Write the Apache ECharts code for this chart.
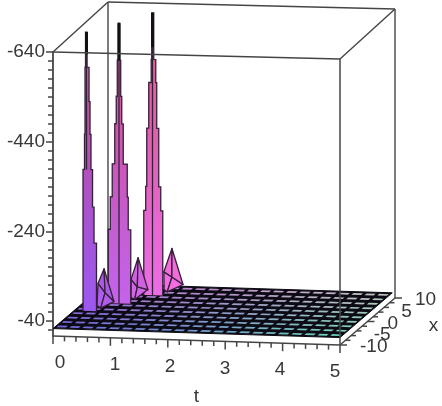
<!DOCTYPE html>
<html>
<head>
<meta charset="utf-8">
<style>html,body{margin:0;padding:0;background:#fff}#main{width:442px;height:406px}</style>
<script src="https://cdn.jsdelivr.net/npm/echarts@6/dist/echarts.min.js"></script>
</head>
<body>
<div id="main"></div>
<script>
// Axis ticks and labels
const tLabels = [0, 1, 2, 3, 4, 5];
const tTicks = [0,0.2,0.4,0.6,0.8,1,1.2,1.4,1.6,1.8,2,2.2,2.4,2.6,2.8,3,3.2,3.4,3.6,3.8,4,4.2,4.4,4.6,4.8,5];
const xLabels = [-10, -5, 0, 5, 10];
const xTicks = [-10,-8,-6,-4,-2,0,2,4,6,8,10];
const zLabels = [-640, -440, -240, -40];
const zTicks = [-640,-620,-600,-580,-560,-540,-520,-500,-480,-460,-440,-420,-400,-380,-360,-340,-320,-300,-280,-260,-240,-220,-200,-180,-160,-140,-120,-100,-80,-60,-40,-20];
const zTop = -640;
const zBottom = -6.5;

// Flat part of the surface
const floorT = [0,0.23,0.45,0.68,0.91,1.14,1.36,1.59,1.82,2.05,2.27,2.5,2.73,2.95,3.18,3.41,3.64,3.86,4.09,4.32,4.55,4.77,5];
const floorX = [-10,-8.1,-6.2,-4.3,-2.4,-0.5,1.4,3.3,5.2,7.1,9];
const floorZ = -23;

// Tall soliton peaks: apex position, level of each step, half widths in t of each band
const peakA = { t: 0.214, x: -2.28, levels: [-642,-564,-488,-415,-337,-254,-174],
  left: [0.017,0.026,0.026,0.035,0.061,0.061,0.061], right: [0.009,0.044,0.061,0.078,0.105,0.131,0.174], blackTo: -593, lineTo: -337 };
const peakB = { t: 0.616, x: 1.14, levels: [-644,-562,-482,-421,-332,-259,-187],
  left: [0.013,0.030,0.048,0.074,0.118,0.152,0.187], right: [0.013,0.030,0.048,0.074,0.144,0.161,0.205], blackTo: -562, lineTo: floorZ };
const peakC = { t: 1.016, x: 4.97, levels: [-647,-544,-493,-392,-263,-210],
  left: [0.013,0.022,0.065,0.100,0.118,0.152], right: [0.022,0.057,0.074,0.109,0.144,0.179], blackTo: -571, lineTo: floorZ };

// Small side peaks as [t, x, z]: apex, left shoulder, left foot, saddle, front foot, right foot
const bumpA = [[0.348,1.3,-98],[0.276,0.6,-69],[0.287,0,floorZ],[0.38,1.0,-47],[0.40,-1,floorZ],[0.494,1.87,floorZ]];
const bumpB = [[0.74,5.5,-102],[0.675,4.3,-60],[0.70,3.73,floorZ],[0.76,4.8,-41],[0.80,3,floorZ],[0.83,7.2,floorZ]];
const bumpC = [[1.183,8.56,-108],[1.07,8,-59],[1.10,7.44,floorZ],[1.20,8.2,-47],[1.20,6.5,floorZ],[1.32,9.73,floorZ]];

// Share of each floor cell taken by the dark mesh, per side
const meshInsetT = 0.14, meshInsetX = 0.31;

// Screen shift of the depth and t directions, in pixels
const depthDX = 55, depthDYBottom = -47, depthDYTop = -50, tDYBottom = 9, tDYTop = 7;

function project(api, t, x, z) {
  const base = api.coord([t, z]);
  const f = (zBottom - z) / (zBottom - zTop);
  const u = (x + 10) / 20;
  return [
    base[0] + u * depthDX,
    base[1] + (t / 5) * (tDYBottom + (tDYTop - tDYBottom) * f) + u * (depthDYBottom + (depthDYTop - depthDYBottom) * f)
  ];
}

function mix(a, b, k) { return a.map((v, i) => v + (b[i] - v) * k); }
function css(c) { return 'rgb(' + c.map(Math.round).join(',') + ')'; }

// Colour of the flat part: position-shaded across t and x
function floorColor(t, x) {
  const u = (x + 10) / 20, v = t / 5;
  return css(mix(mix([112,98,222],[104,214,184],v), mix([186,108,204],[206,196,190],v), u));
}
// Colour of raised parts: follows t and the height
function raisedColor(t, z) {
  const v = Math.min(1, t / 1.1), f = (zBottom - z) / (zBottom - zTop);
  const stops = [
    [0.0, mix([134,84,246],[244,112,230],v)],
    [0.3, mix([146,80,216],[236,104,204],v)],
    [0.55, mix([168,76,186],[232,96,176],v)],
    [0.8, mix([186,86,156],[232,96,154],v)],
    [1.0, mix([232,140,150],[242,112,116],v)]
  ];
  for (let i = 1; i < stops.length; i++) {
    if (f <= stops[i][0]) {
      return css(mix(stops[i-1][1], stops[i][1], (f - stops[i-1][0]) / (stops[i][0] - stops[i-1][0])));
    }
  }
  return css(stops[stops.length-1][1]);
}

const axisInk = '#454545', textInk = '#383838', meshInk = '#0c0a14', peakInk = '#35203c';
const font = '19px "Liberation Sans", Arial, sans-serif';

function edge(api, a, b, width) {
  const p = project(api, a[0], a[1], a[2]), q = project(api, b[0], b[1], b[2]);
  return { type: 'line', shape: { x1: p[0], y1: p[1], x2: q[0], y2: q[1] }, style: { stroke: axisInk, lineWidth: width || 1.4 } };
}

// Box edges that lie behind the surface
const backEdges = [
  [[0,-10,zTop],[0,10,zTop]], [[0,10,zTop],[5,10,zTop]], [[5,-10,zTop],[5,10,zTop]],
  [[0,10,zTop],[0,10,zBottom]], [[5,10,zTop],[5,10,zBottom]]
];
// Box edges and axes in front of it
const frontEdges = [
  [[0,-10,zTop],[5,-10,zTop]], [[5,-10,zTop],[5,-10,zBottom]],
  [[0,-10,zBottom],[5,-10,zBottom]], [[5,-10,zBottom],[5,10,zBottom]]
];

function renderBack(params, api) {
  const e = backEdges[api.value(0)];
  return edge(api, e[0], e[1]);
}

function renderFloorBase(params, api) {
  const tEnd = floorT[floorT.length-1], xEnd = floorX[floorX.length-1];
  return {
    type: 'polygon',
    shape: { points: [
      project(api, floorT[0], floorX[0], floorZ), project(api, tEnd, floorX[0], floorZ),
      project(api, tEnd, xEnd, floorZ), project(api, floorT[0], xEnd, floorZ)
    ] },
    style: { fill: meshInk, stroke: meshInk, lineWidth: 1 }
  };
}

function renderFloorCell(params, api) {
  const i = api.value(0), j = api.value(1);
  const dt = (floorT[i+1] - floorT[i]) * meshInsetT, dx = (floorX[j+1] - floorX[j]) * meshInsetX;
  const t0 = floorT[i] + dt, t1 = floorT[i+1] - dt, x0 = floorX[j] + dx, x1 = floorX[j+1] - dx;
  return {
    type: 'polygon',
    shape: { points: [
      project(api, t0, x0, floorZ), project(api, t1, x0, floorZ),
      project(api, t1, x1, floorZ), project(api, t0, x1, floorZ)
    ] },
    style: { fill: floorColor((t0 + t1) / 2, (x0 + x1) / 2) }
  };
}

function peakShape(api, pk) {
  const n = pk.levels.length, children = [];
  const zAt = k => (k < n ? pk.levels[k] : floorZ);
  // one face per stepped band, shaded by its height; each band runs slightly under the next
  for (let k = n - 1; k >= 0; k--) {
    const a = project(api, pk.t - pk.left[k], pk.x, zAt(k)), b = project(api, pk.t + pk.right[k], pk.x, zAt(k));
    const c = project(api, pk.t + pk.right[k], pk.x, zAt(k+1)), d = project(api, pk.t - pk.left[k], pk.x, zAt(k+1));
    if (k < n - 1) { a[1] -= 0; c[1] += 1; d[1] += 1; }
    children.push({
      type: 'polygon', shape: { points: [a, b, c, d] },
      style: {
        fill: { type: 'linear', x: 0, y: 0, x2: 0, y2: 1, colorStops: [
          { offset: 0, color: raisedColor(pk.t, zAt(k)) }, { offset: 1, color: raisedColor(pk.t, zAt(k+1)) } ] }
      }
    });
  }
  // stepped outline
  const lhs = [], rhs = [];
  for (let k = 0; k < n; k++) {
    rhs.push(project(api, pk.t + pk.right[k], pk.x, zAt(k)), project(api, pk.t + pk.right[k], pk.x, zAt(k+1)));
    lhs.push(project(api, pk.t - pk.left[k], pk.x, zAt(k)), project(api, pk.t - pk.left[k], pk.x, zAt(k+1)));
  }
  children.push({ type: 'polyline', shape: { points: lhs.reverse().concat(rhs) }, style: { fill: 'none', stroke: peakInk, lineWidth: 1.3 } });
  const top = project(api, pk.t, pk.x, pk.levels[0]);
  const mid = project(api, pk.t, pk.x, pk.lineTo), blk = project(api, pk.t, pk.x, pk.blackTo);
  children.push({ type: 'line', shape: { x1: top[0], y1: top[1], x2: mid[0], y2: mid[1] }, style: { stroke: peakInk, lineWidth: 1.3 } });
  children.push({ type: 'line', shape: { x1: top[0], y1: top[1], x2: blk[0], y2: blk[1] }, style: { stroke: '#111', lineWidth: 3 } });
  return { type: 'group', children };
}

function bumpShape(api, b) {
  const P = b.map(q => project(api, q[0], q[1], q[2]));
  const [apex, shoulder, foot, saddle, front, rightFoot] = P;
  const face = (pts, q) => ({
    type: 'polygon', shape: { points: pts },
    style: { fill: raisedColor(q[0], q[2]), stroke: peakInk, lineWidth: 1.3, lineJoin: 'round' }
  });
  return { type: 'group', children: [
    face([saddle, shoulder, foot, front], b[3]),
    face([saddle, front, rightFoot], b[3]),
    face([apex, shoulder, saddle], b[0]),
    face([apex, saddle, rightFoot], b[0])
  ] };
}

// Painted far to near
const raised = [
  { bump: bumpC }, { peak: peakC }, { bump: bumpB }, { peak: peakB }, { bump: bumpA }, { peak: peakA }
];

function renderRaised(params, api) {
  const item = raised[api.value(0)];
  return item.peak ? peakShape(api, item.peak) : bumpShape(api, item.bump);
}

function renderFront(params, api) {
  const e = frontEdges[api.value(0)];
  return edge(api, e[0], e[1], 1.5);
}

function tickLine(p, dx, dy, w) {
  return { type: 'line', shape: { x1: p[0], y1: p[1], x2: p[0] + dx, y2: p[1] + dy }, style: { stroke: axisInk, lineWidth: w || 1.5 } };
}

function renderTTick(params, api) {
  const t = tTicks[api.value(0)];
  const major = tLabels.indexOf(t) >= 0;
  return tickLine(project(api, t, -10, zBottom), 0, major ? 8 : 5);
}
function renderXTick(params, api) {
  const x = xTicks[api.value(0)];
  const major = xLabels.indexOf(x) >= 0;
  return tickLine(project(api, 5, x, zBottom), major ? 7 : 5, 0);
}
function textEl(text, x, y, align) {
  return { type: 'text', x, y, style: { text: String(text), font, fill: textInk, align: align || 'center', verticalAlign: 'middle' } };
}
function renderTLabel(params, api) {
  const t = tLabels[api.value(0)];
  const p = project(api, t, -10, zBottom);
  return textEl(t, p[0] + 7 - 12 * t / 5, p[1] + 27);
}
function renderXLabel(params, api) {
  const x = xLabels[api.value(0)];
  const p = project(api, 5, x, zBottom);
  return textEl(x, p[0] + 20, p[1] + 2, 'left');
}
function renderNames(params, api) {
  const tMid = project(api, 2.5, -10, zBottom), xMid = project(api, 5, 0, zBottom);
  return { type: 'group', children: [ textEl('t', tMid[0], tMid[1] + 56), textEl('x', xMid[0] + 66, xMid[1] + 4) ] };
}

const indices = arr => arr.map((_, i) => [i]);
const floorCells = [];
for (let j = floorX.length - 2; j >= 0; j--) {
  for (let i = 0; i < floorT.length - 1; i++) floorCells.push([i, j]);
}

const layer = (name, renderItem, data) => ({
  type: 'custom', name, coordinateSystem: 'cartesian2d', renderItem, data,
  silent: true, animation: false, clip: false
});

const chart = echarts.init(document.getElementById('main'), null, { renderer: 'canvas' });
chart.setOption({
  backgroundColor: '#fff',
  animation: false,
  grid: { left: 53, top: 52, width: 287, height: 284 },
  xAxis: { type: 'value', min: 0, max: 5, show: false },
  yAxis: [
    {
      type: 'value', inverse: true, min: zTop, max: zBottom, position: 'left',
      splitLine: { show: false },
      axisLine: { show: true, onZero: false, lineStyle: { color: axisInk, width: 1.8 } },
      axisTick: { show: true, length: 5, customValues: zTicks, lineStyle: { color: axisInk, width: 1.5 } },
      axisLabel: { show: true, margin: 8, customValues: zLabels, color: textInk, fontSize: 19, fontFamily: '"Liberation Sans", Arial, sans-serif' }
    },
    {
      type: 'value', inverse: true, min: zTop, max: zBottom, position: 'left',
      splitLine: { show: false },
      axisLine: { show: false, onZero: false },
      axisTick: { show: true, length: 7, customValues: zLabels, lineStyle: { color: axisInk, width: 1.5 } },
      axisLabel: { show: false }
    }
  ],
  series: [
    layer('back edges', renderBack, indices(backEdges)),
    layer('floor base', renderFloorBase, [[0]]),
    layer('floor', renderFloorCell, floorCells),
    layer('peaks', renderRaised, indices(raised)),
    layer('front edges', renderFront, indices(frontEdges)),
    layer('t ticks', renderTTick, indices(tTicks)),
    layer('x ticks', renderXTick, indices(xTicks)),
    layer('t labels', renderTLabel, indices(tLabels)),
    layer('x labels', renderXLabel, indices(xLabels)),
    layer('names', renderNames, [[0]])
  ]
});
</script>
</body>
</html>
